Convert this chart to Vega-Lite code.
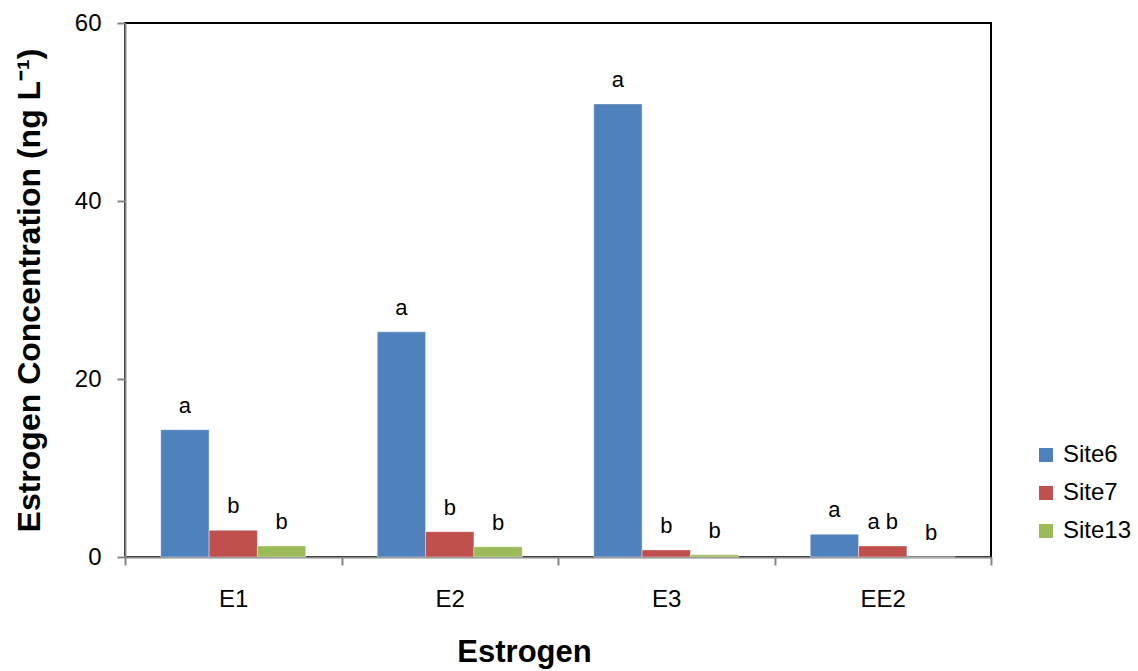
{
  "$schema": "https://vega.github.io/schema/vega-lite/v6.json",
  "autosize": "none",
  "width": 866,
  "height": 534,
  "padding": {"left": 125, "top": 23, "right": 147, "bottom": 114},
  "background": "white",
  "config": {
    "font": "Liberation Sans",
    "view": {"stroke": "black", "strokeWidth": 2}
  },
  "data": {
    "values": [
      {"Estrogen": "E1", "Site": "Site6", "value": 14.3, "label": "a"},
      {"Estrogen": "E1", "Site": "Site7", "value": 3.0, "label": "b"},
      {"Estrogen": "E1", "Site": "Site13", "value": 1.25, "label": "b"},
      {"Estrogen": "E2", "Site": "Site6", "value": 25.3, "label": "a"},
      {"Estrogen": "E2", "Site": "Site7", "value": 2.85, "label": "b"},
      {"Estrogen": "E2", "Site": "Site13", "value": 1.15, "label": "b"},
      {"Estrogen": "E3", "Site": "Site6", "value": 50.9, "label": "a"},
      {"Estrogen": "E3", "Site": "Site7", "value": 0.8, "label": "b"},
      {"Estrogen": "E3", "Site": "Site13", "value": 0.25, "label": "b"},
      {"Estrogen": "EE2", "Site": "Site6", "value": 2.55, "label": "a"},
      {"Estrogen": "EE2", "Site": "Site7", "value": 1.25, "label": "a b"},
      {"Estrogen": "EE2", "Site": "Site13", "value": 0, "label": "b"}
    ]
  },
  "encoding": {
    "x": {
      "field": "Estrogen",
      "type": "nominal",
      "scale": {"paddingInner": 0, "paddingOuter": 0},
      "axis": {
        "title": "Estrogen",
        "titleFontSize": 31,
        "titleFontWeight": "bold",
        "titleColor": "black",
        "titlePadding": 26,
        "titleX": 399,
        "titleAnchor": "middle",
        "labelAngle": 0,
        "labelFontSize": 24,
        "labelColor": "black",
        "labelPadding": 22,
        "tickBand": "extent",
        "tickSize": 8,
        "tickColor": "#868686",
        "tickWidth": 2,
        "domainColor": "#868686",
        "domainWidth": 2
      }
    },
    "xOffset": {
      "field": "Site",
      "type": "nominal",
      "sort": ["Site6", "Site7", "Site13"],
      "scale": {"paddingInner": 0, "paddingOuter": 0.74}
    },
    "y": {
      "field": "value",
      "type": "quantitative",
      "scale": {"domain": [0, 60], "nice": false},
      "axis": {
        "title": "Estrogen Concentration  (ng L⁻¹)",
        "titleFontSize": 32,
        "titleFontWeight": "bold",
        "titleColor": "black",
        "titlePadding": 28,
        "values": [0, 20, 40, 60],
        "grid": false,
        "labelFontSize": 24,
        "labelColor": "black",
        "labelPadding": 16,
        "tickSize": 8,
        "tickColor": "#868686",
        "tickWidth": 2,
        "domainColor": "#868686",
        "domainWidth": 2
      }
    }
  },
  "layer": [
    {
      "mark": {"type": "bar", "stroke": "white", "strokeOpacity": 0.4, "strokeWidth": 1},
      "encoding": {
        "color": {
          "field": "Site",
          "type": "nominal",
          "sort": ["Site6", "Site7", "Site13"],
          "scale": {"domain": ["Site6", "Site7", "Site13"], "range": ["#4F81BD", "#C0504D", "#9BBB59"]},
          "legend": {
            "title": null,
            "orient": "none",
            "legendX": 909,
            "legendY": 420,
            "symbolType": "square",
            "symbolSize": 196,
            "symbolStrokeWidth": 0,
            "labelFontSize": 24,
            "labelColor": "black",
            "rowPadding": 14,
            "labelOffset": 5
          }
        }
      }
    },
    {
      "mark": {"type": "text", "dy": -24, "baseline": "middle", "fontSize": 22, "color": "black"},
      "encoding": {
        "text": {"field": "label"}
      }
    }
  ]
}
